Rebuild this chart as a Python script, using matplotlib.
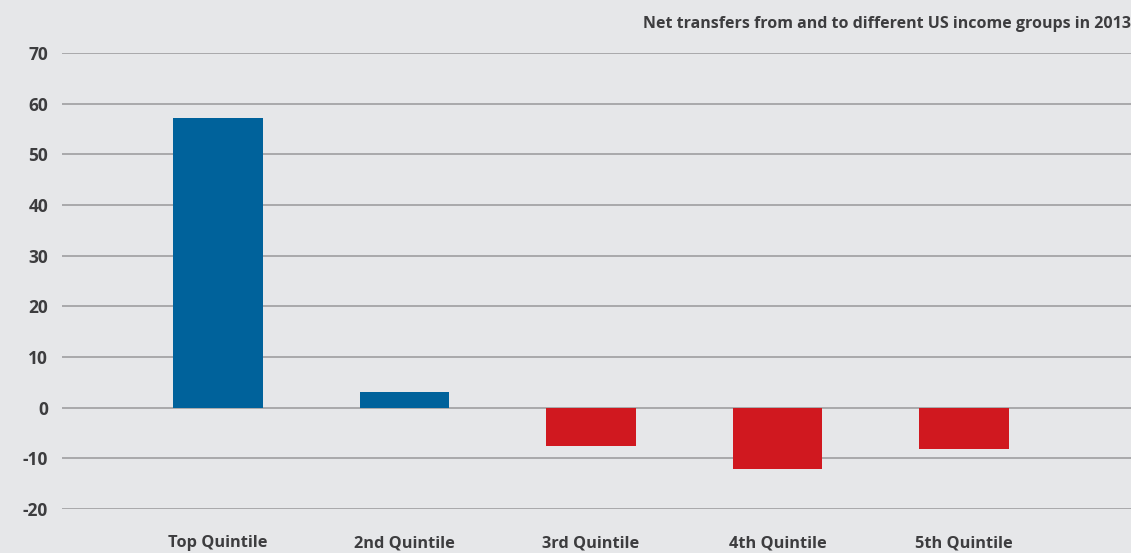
import matplotlib.pyplot as plt

# net transfers by income quintile, 2013
groups = ['Top Quintile', '2nd Quintile', '3rd Quintile', '4th Quintile', '5th Quintile']
net_transfer = [57.2, 3.0, -7.6, -12.2, -8.2]
yticks = [-20, -10, 0, 10, 20, 30, 40, 50, 60, 70]

bg = '#e6e7e9'
blue = '#00629b'
red = '#d0181f'
text_col = '#3d3d3f'

plt.rcParams['font.family'] = ['Open Sans', 'DejaVu Sans']

fig = plt.figure(figsize=(11.31, 5.53), dpi=100, facecolor=bg)
ax = fig.add_axes([62 / 1131, 44 / 553, 1 - 62 / 1131, 456 / 553])
ax.set_facecolor(bg)

colors = [blue if v >= 0 else red for v in net_transfer]
x = list(range(len(groups)))
ax.bar(x, net_transfer, width=0.48, color=colors, zorder=3)

ax.set_ylim(-20, 70)
ax.set_xlim(-0.836, 4.895)
ax.set_yticks(yticks)
ax.set_yticklabels([str(t) for t in yticks], fontsize=12.5, fontweight='bold', color=text_col)
ax.set_xticks(x)
ax.set_xticklabels(groups, fontsize=11.8, fontweight='bold', color=text_col)
ax.tick_params(axis='both', length=0)
ax.tick_params(axis='y', pad=10)
ax.tick_params(axis='x', pad=19)

ax.grid(axis='y', color='#a9a9ab', linewidth=1.4, zorder=0)
ax.set_axisbelow(True)
for s in ax.spines.values():
    s.set_visible(False)

fig.text(1.0, 1 - 24 / 553, 'Net transfers from and to different US income groups in 2013',
         ha='right', va='center', fontsize=11.5, fontweight='bold', color=text_col)

fig.savefig('out.png', dpi=100, facecolor=bg)
